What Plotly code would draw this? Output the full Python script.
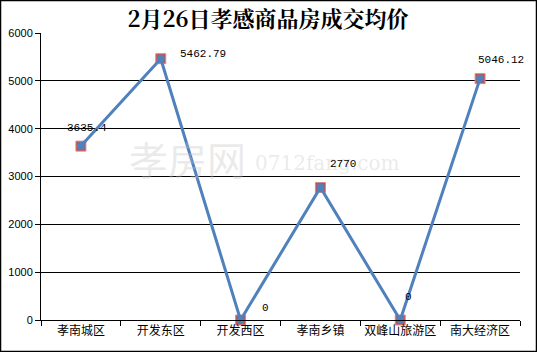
import plotly.graph_objects as go

categories = ["孝南城区", "开发东区", "开发西区", "孝南乡镇", "双峰山旅游区", "南大经济区"]
values = [3635.4, 5462.79, 0, 2770, 0, 5046.12]
labels = ["3635.4", "5462.79", "0", "2770", "0", "5046.12"]
label_offsets = [(6, -18), (42, -5), (25, -12), (23, -24), (8, -23), (21, -19)]

W, H = 537, 352
ml, mr, mt, mb = 41, 17, 33, 32
pw, ph = W - ml - mr, H - mt - mb

fig = go.Figure()
fig.add_trace(go.Scatter(
    x=categories, y=values, mode="markers",
    marker=dict(symbol="square", size=10, color="#C0504D",
                line=dict(color="#D98A88", width=1)),
    hoverinfo="skip", showlegend=False, cliponaxis=False))
fig.add_trace(go.Scatter(
    x=categories, y=values, mode="lines+markers",
    line=dict(color="#4F81BD", width=3),
    marker=dict(symbol="circle", size=8, color="#4F81BD"),
    showlegend=False, cliponaxis=False))

annotations = []
# watermark (drawn first, underneath)
annotations.append(dict(x=(248 - ml) / pw, y=1 - (158 - mt) / ph, xref="paper", yref="paper",
                        text="孝房网", showarrow=False, xanchor="right",
                        font=dict(family="Noto Sans CJK SC", size=39, color="rgba(195,195,195,0.35)")))
annotations.append(dict(x=(253 - ml) / pw, y=1 - (163 - mt) / ph, xref="paper", yref="paper",
                        text="0712fang.com", showarrow=False, xanchor="left",
                        font=dict(family="DejaVu Serif", size=20, color="rgba(195,195,195,0.35)")))
for c, v, t, (dx, dy) in zip(categories, values, labels, label_offsets):
    annotations.append(dict(x=c, y=v, xref="x", yref="y", text=t, showarrow=False,
                            xshift=dx, yshift=-dy,
                            font=dict(family="Liberation Mono", size=11, color="#000")))

fig.update_layout(
    width=W, height=H,
    margin=dict(l=ml, r=mr, t=mt, b=mb, pad=0),
    paper_bgcolor="white", plot_bgcolor="white",
    title=dict(text="<b>2月26日孝感商品房成交均价</b>", x=268 / W, xanchor="center",
               y=1 - 19 / H, yanchor="middle",
               font=dict(family="Noto Serif CJK SC, Noto Sans CJK SC", size=22, color="#000")),
    xaxis=dict(type="category", showgrid=False, showline=True, linecolor="#000", linewidth=1,
               ticks="outside", tickson="boundaries", ticklen=5, tickcolor="#000",
               tickangle=0, automargin=False,
               tickfont=dict(family="Noto Sans CJK SC", size=12, color="#000"),
               range=[-0.5, 5.5], fixedrange=True, zeroline=False),
    yaxis=dict(range=[0, 6000], dtick=1000, showgrid=True, gridcolor="#000", gridwidth=1,
               showline=True, linecolor="#000", linewidth=1, ticks="outside", ticklen=5,
               tickcolor="#000", zeroline=False, automargin=False,
               tickfont=dict(family="Liberation Sans", size=11, color="#000")),
    annotations=annotations,
    shapes=[dict(type="rect", xref="paper", yref="paper",
                 x0=(0.5 - ml) / pw, x1=(W - 0.5 - ml) / pw,
                 y0=-(mb - 0.5) / ph, y1=(ph + mt - 0.5) / ph,
                 line=dict(color="#000", width=1.5), layer="above")],
)

fig.write_html("out.html")
